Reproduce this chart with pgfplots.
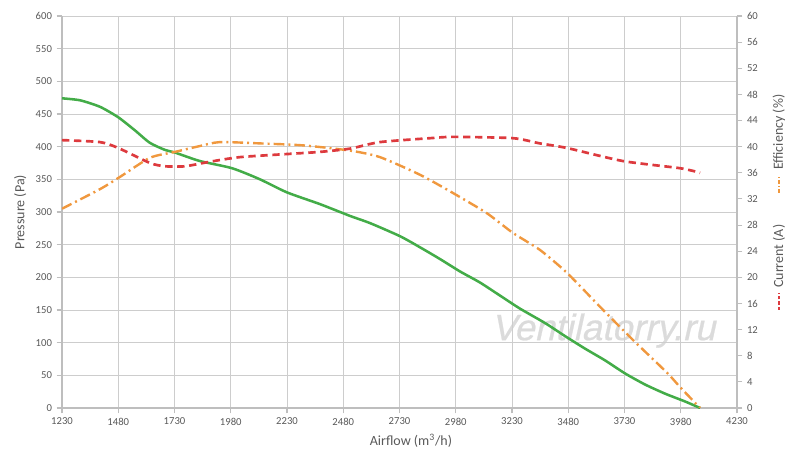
\documentclass[border=0pt]{standalone}
\usepackage{fontspec}
\setmainfont{Carlito}
\newfontfamily\wmfont[FakeSlant=0.22,FakeBold=0.6]{Liberation Sans}
\usepackage{pgfplots}
\pgfplotsset{compat=1.18}
\definecolor{cgreen}{RGB}{67,172,72}
\definecolor{corange}{RGB}{240,152,62}
\definecolor{cred}{RGB}{221,58,62}
\definecolor{cgrid}{RGB}{205,205,205}
\definecolor{caxis}{RGB}{190,190,190}
\definecolor{ctext}{RGB}{89,89,89}
\begin{document}
\begin{tikzpicture}
\useasboundingbox (-46.5pt,-42pt) rectangle (553.5pt,306pt);
\node[text=gray!28, font=\wmfont\fontsize{27.5}{28}\selectfont] at (406pt,58pt) {Ventilatorry.ru};
\begin{axis}[
  scale only axis, width=506.25pt, height=294pt,
  xmin=1230, xmax=4230, ymin=0, ymax=600,
  xtick={1230,1480,...,4230}, ytick={0,50,...,600},
  grid=major, grid style={cgrid, line width=0.6pt},
  axis x line*=bottom, axis y line*=left,
  axis line style={caxis, line width=1.2pt, -},
  tick style={caxis, line width=0.8pt},
  major tick length=4pt, tick align=outside,
  ticklabel style={font=\fontsize{8}{9}\selectfont, text=ctext},
  /pgf/number format/assume math mode=true,
  /pgf/number format/1000 sep={},
  xlabel={Airflow (m\textsuperscript{3}/h)},
  ylabel={Pressure (Pa)},
  xlabel style={font=\fontsize{10.5}{12}\selectfont, text=ctext, at={(axis description cs:0.517,-0.084)}, anchor=center},
  ylabel style={font=\fontsize{10.5}{12}\selectfont, text=ctext, at={(axis description cs:-0.062,0.5)}, anchor=center},
]
\addplot[cgreen, line width=1.9pt, smooth, tension=0.4] coordinates {
(1230,474) (1310,471) (1399,461) (1480,445) (1554,425) (1620,406) (1688,395)
(1732,391) (1843,378) (1986,367) (2110,350) (2230,330) (2377,312) (2510,294)
(2599,283) (2732,263) (2821,246) (2910,228) (2999,209) (3088,192) (3177,172)
(3266,152) (3377,130) (3466,110) (3554,91) (3643,73) (3732,53) (3821,36)
(3910,22) (3999,10) (4066,0)
};
\end{axis}
\begin{axis}[
  scale only axis, width=506.25pt, height=294pt,
  xmin=1230, xmax=4230, ymin=0, ymax=60,
  ytick={0,4,...,60},
  axis x line=none, axis y line*=right,
  axis line style={caxis, line width=1.2pt, -},
  tick style={caxis, line width=0.8pt},
  major tick length=4pt, tick align=outside,
  ticklabel style={font=\fontsize{8}{9}\selectfont, text=ctext},
  /pgf/number format/assume math mode=true,
]
\addplot[corange, line width=1.8pt, smooth, tension=0.4, dash pattern=on 8pt off 3pt on 1.5pt off 3pt] coordinates {
(1230,30.5) (1399,33.5) (1489,35.4) (1621,38.3) (1732,39.2) (1843,40.1) (1932,40.7)
(2110,40.5) (2301,40.2) (2510,39.4) (2643,38.4) (2821,35.7) (2968,32.9) (3119,29.8)
(3234,26.8) (3354,24.2) (3474,20.7) (3621,15.5) (3768,10.4) (3919,5.4) (3977,3.2) (4066,0)
};
\addplot[cred, line width=2pt, smooth, tension=0.4, dash pattern=on 5.5pt off 3.5pt] coordinates {
(1230,41.0) (1399,40.7) (1480,39.8) (1621,37.5) (1688,37.0) (1777,37.0) (1888,37.7)
(2021,38.4) (2243,38.9) (2377,39.2) (2510,39.7) (2643,40.7) (2866,41.3) (2968,41.5)
(3234,41.3) (3354,40.5) (3474,39.8) (3723,37.8) (3977,36.7) (4066,36.0)
};
\end{axis}
\draw[cred, line width=1.5pt, dash pattern=on 2.5pt off 1.5pt] (537.75pt,73.5pt) -- (537.75pt,86.25pt);
\node[rotate=90, anchor=west, inner sep=0pt, font=\fontsize{10.5}{12}\selectfont, text=ctext] at (537.75pt,90pt) {Current (A)};
\draw[corange, line width=1.2pt, dash pattern=on 3pt off 1.5pt on 1pt off 1.5pt] (537.75pt,161.25pt) -- (537.75pt,173.25pt);
\node[rotate=90, anchor=west, inner sep=0pt, font=\fontsize{10.5}{12}\selectfont, text=ctext] at (537.75pt,178.5pt) {Efficiency (\%)};
\end{tikzpicture}
\end{document}
